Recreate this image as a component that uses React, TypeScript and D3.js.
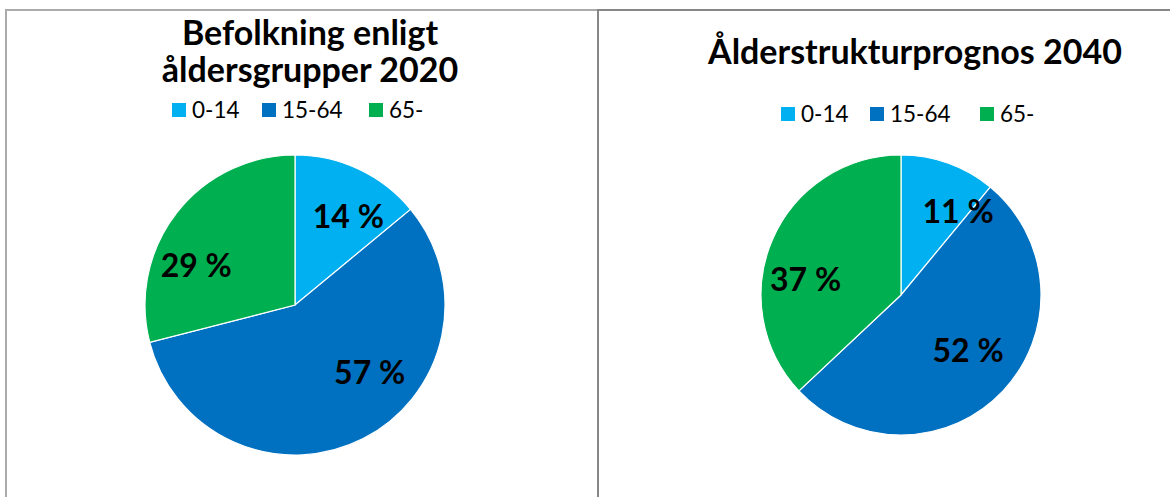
import React from "react";
import * as d3 from "d3";

const categories = ["0-14", "15-64", "65-"];
const colors = ["#00B0F0", "#0070C0", "#00B050"];
const values2020 = [14, 57, 29];
const values2040 = [11, 52, 37];
const titles2020 = ["Befolkning enligt", "åldersgrupper 2020"];
const titles2040 = ["Ålderstrukturprognos 2040"];
// label placement (polar: degrees clockwise from 12 o'clock, fraction of radius)
const labelPos2020 = [[31, 0.69], [132, 0.67], [292, 0.71]];
const labelPos2040 = [[34.5, 0.72], [129.4, 0.62], [279, 0.69]];

const FONT = "Lato, 'Open Sans', sans-serif";

type PanelProps = {
  values: number[];
  titles: string[];
  titleX: number;
  titleY: number[];
  cx: number;
  cy: number;
  r: number;
  legendX: number[];
  legendY: number;
  labelPos: number[][];
};

function Panel(p: PanelProps) {
  const pie = d3.pie<number>().sort(null).value((d) => d);
  const arcs = pie(p.values);
  const arc = d3.arc<d3.PieArcDatum<number>>().innerRadius(0).outerRadius(p.r);
  return (
    <g>
      {p.titles.map((t, i) => (
        <text
          key={i}
          x={p.titleX}
          y={p.titleY[i]}
          textAnchor="middle"
          fontFamily={FONT}
          fontWeight="bold"
          fontSize={34}
          fill="#000"
        >
          {t}
        </text>
      ))}
      {categories.map((c, i) => (
        <g key={c}>
          <rect x={p.legendX[i]} y={p.legendY - 7} width={14} height={14} fill={colors[i]} />
          <text
            x={p.legendX[i] + 20}
            y={p.legendY + 8}
            fontFamily={FONT}
            fontSize={22.5}
            fill="#000"
          >
            {c}
          </text>
        </g>
      ))}
      <g transform={`translate(${p.cx},${p.cy})`}>
        {arcs.map((a, i) => (
          <path key={i} d={arc(a) || ""} fill={colors[i]} stroke="#fff" strokeWidth={1.2} />
        ))}
        {arcs.map((a, i) => {
          const ang = (p.labelPos[i][0] * Math.PI) / 180;
          const rr = p.labelPos[i][1] * p.r;
          const x = Math.sin(ang) * rr;
          const y = -Math.cos(ang) * rr;
          return (
            <text
              key={"l" + i}
              x={x}
              y={y}
              dy="0.36em"
              textAnchor="middle"
              fontFamily={FONT}
              fontWeight="bold"
              fontSize={32}
              fill="#000"
            >
              {`${a.data} %`}
            </text>
          );
        })}
      </g>
    </g>
  );
}

export default function App() {
  return (
    <svg
      width={1170}
      height={497}
      style={{ position: "absolute", left: 0, top: 0, background: "#fff" }}
    >
      <rect x={0} y={0} width={1170} height={497} fill="#fff" />
      {/* panel borders */}
      <path d="M6,497 V10 H598" fill="none" stroke="#ababab" strokeWidth={2} />
      <path d="M598,497 V10 H1170" fill="none" stroke="#878787" strokeWidth={2} />
      <Panel
        values={values2020}
        titles={titles2020}
        titleX={310}
        titleY={[45, 82]}
        cx={295}
        cy={305}
        r={150}
        legendX={[172, 262, 369]}
        legendY={110}
        labelPos={labelPos2020}
      />
      <Panel
        values={values2040}
        titles={titles2040}
        titleX={915}
        titleY={[64]}
        cx={901}
        cy={295}
        r={140}
        legendX={[781, 870, 980]}
        legendY={114}
        labelPos={labelPos2040}
      />
    </svg>
  );
}
